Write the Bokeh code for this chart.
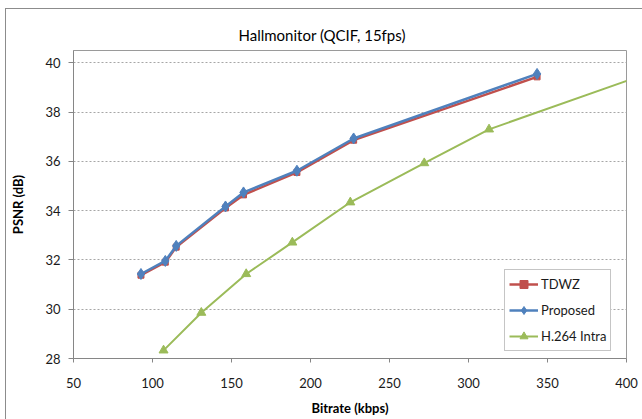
from bokeh.plotting import figure
from bokeh.models import Range1d, FixedTicker, Legend, LegendItem
from bokeh.embed import file_html
from bokeh.resources import INLINE

# Data
tdwz_x = [92.7, 108.1, 115.0, 146.2, 157.6, 191.4, 227.3, 343.4]
tdwz_y = [31.38, 31.91, 32.52, 34.11, 34.64, 35.55, 36.86, 39.43]

prop_x = [92.7, 108.1, 115.0, 146.2, 157.6, 191.4, 227.3, 343.4]
prop_y = [31.43, 31.96, 32.57, 34.17, 34.74, 35.62, 36.93, 39.55]

h264_x = [107.0, 130.9, 159.3, 188.5, 225.2, 272.0, 313.0, 420.0]
h264_y = [28.33, 29.86, 31.43, 32.71, 34.34, 35.93, 37.30, 39.72]

x_ticks = [50, 100, 150, 200, 250, 300, 350, 400]
y_ticks = [28, 30, 32, 34, 36, 38, 40]

FONT = "Lato"
RED = "#C0504D"
BLUE = "#4F81BD"
GREEN = "#9BBB59"
AXIS = "#868686"
BORDER = "#8c8c8c"

p = figure(width=642, height=419, output_backend="svg", toolbar_location=None,
           x_range=Range1d(50, 400), y_range=Range1d(28, 40.5),
           min_border_left=73, min_border_right=16, min_border_top=50, min_border_bottom=61)

p.title.text = "Hallmonitor (QCIF, 15fps)"
p.title.align = "left"
p.title.text_font = FONT
p.title.text_font_size = "15px"
p.title.text_font_style = "normal"
p.title.text_color = "#000000"
p.title.offset = 165
p.title.standoff = 13

p.outline_line_color = "#9a9a9a"
p.outline_line_width = 1
p.background_fill_color = "white"
p.border_fill_color = None
p.styles = {
    "background": (f"linear-gradient({BORDER},{BORDER}) 5px 8px / 1px 420px no-repeat, "
                   f"linear-gradient({BORDER},{BORDER}) 5px 8px / 640px 1px no-repeat, white")
}

# Axes
p.xaxis.ticker = FixedTicker(ticks=x_ticks)
p.yaxis.ticker = FixedTicker(ticks=y_ticks)
for ax in (p.xaxis[0], p.yaxis[0]):
    ax.axis_line_color = AXIS
    ax.major_tick_line_color = AXIS
    ax.minor_tick_line_color = None
    ax.major_tick_in = 0
    ax.major_label_text_font = FONT
    ax.major_label_text_font_size = "13px"
    ax.major_label_text_color = "#1a1a1a"
    ax.axis_label_text_font = FONT
    ax.axis_label_text_font_size = "13px"
    ax.axis_label_text_font_style = "bold"
    ax.axis_label_text_color = "#000000"

p.xaxis.major_tick_out = 4
p.xaxis.major_label_standoff = 15
p.xaxis.axis_label = "Bitrate (kbps)"
p.xaxis.axis_label_standoff = 9

p.yaxis.major_tick_out = 5
p.yaxis.major_label_standoff = 8
p.yaxis.axis_label = "PSNR (dB)"
p.yaxis.axis_label_standoff = 16

p.xgrid.grid_line_color = None
p.ygrid.grid_line_color = "#a6a6a6"
p.ygrid.grid_line_dash = "2 2"
p.ygrid.grid_line_width = 1

# Series
r1 = p.line(tdwz_x, tdwz_y, line_color=RED, line_width=2.5)
m1 = p.scatter(tdwz_x, tdwz_y, marker="square", size=6, fill_color=RED, line_color=RED)
r2 = p.line(prop_x, prop_y, line_color=BLUE, line_width=2.5)
m2 = p.scatter(prop_x, prop_y, marker="diamond", size=11, fill_color=BLUE, line_color=BLUE)
r3 = p.line(h264_x, h264_y, line_color=GREEN, line_width=2)
m3 = p.scatter(h264_x, h264_y, marker="triangle", size=9, fill_color=GREEN, line_color=GREEN)

legend = Legend(items=[
    LegendItem(label="TDWZ", renderers=[r1, m1]),
    LegendItem(label="Proposed", renderers=[r2, m2]),
    LegendItem(label="H.264 Intra", renderers=[r3, m3]),
], location=(431, 7))
legend.border_line_color = BORDER
legend.border_line_width = 1
legend.background_fill_color = "white"
legend.background_fill_alpha = 1
legend.label_text_font = FONT
legend.label_text_font_size = "13px"
legend.label_text_color = "#1a1a1a"
legend.glyph_width = 29
legend.glyph_height = 20
legend.label_height = 20
legend.label_standoff = 3
legend.spacing = 6
legend.padding = 4
legend.margin = 0
p.add_layout(legend, "center")

open("out.html", "w").write(file_html(p, INLINE))
